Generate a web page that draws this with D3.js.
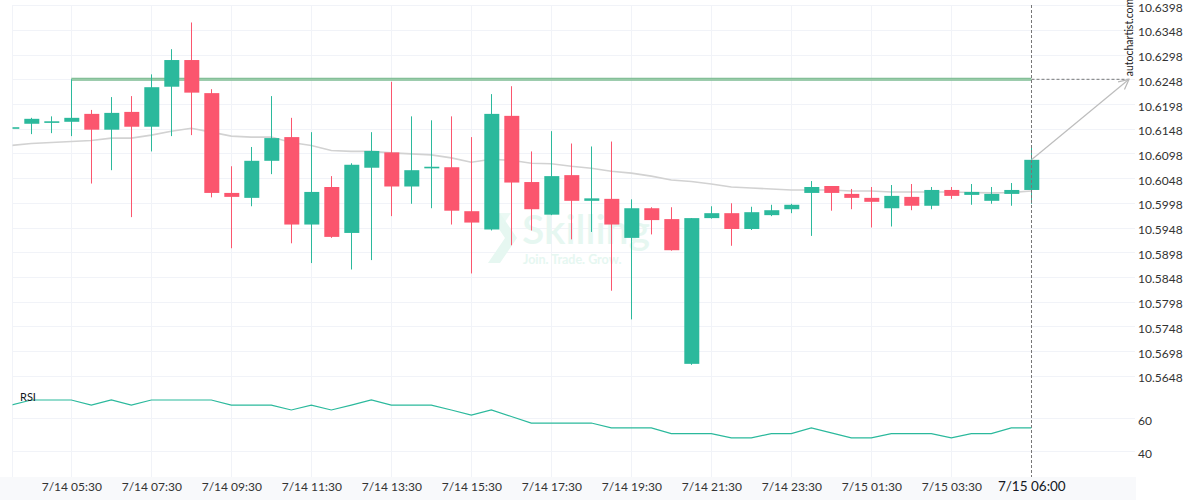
<!DOCTYPE html>
<html>
<head>
<meta charset="utf-8">
<script src="https://cdn.jsdelivr.net/npm/d3@7"></script>
<style>
html,body{margin:0;padding:0;background:#fff;}
svg{display:block;font-family:Lato, "Open Sans", sans-serif;}
</style>
</head>
<body>
<svg id="chart" width="1200" height="500"></svg>
<script>
// ---------- DATA ----------
const categories = [
  "7/14 04:00","7/14 04:30","7/14 05:00","7/14 05:30","7/14 06:00","7/14 06:30","7/14 07:00","7/14 07:30",
  "7/14 08:00","7/14 08:30","7/14 09:00","7/14 09:30","7/14 10:00","7/14 10:30","7/14 11:00","7/14 11:30",
  "7/14 12:00","7/14 12:30","7/14 13:00","7/14 13:30","7/14 14:00","7/14 14:30","7/14 15:00","7/14 15:30",
  "7/14 16:00","7/14 16:30","7/14 17:00","7/14 17:30","7/14 18:00","7/14 18:30","7/14 19:00","7/14 19:30",
  "7/14 20:00","7/14 20:30","7/14 21:00","7/14 21:30","7/14 22:00","7/14 22:30","7/14 23:00","7/14 23:30",
  "7/15 00:00","7/15 00:30","7/15 01:00","7/15 01:30","7/15 02:00","7/15 02:30","7/15 03:00","7/15 03:30",
  "7/15 04:00","7/15 04:30","7/15 05:00","7/15 06:00"
];
const openV  = [10.6148,10.6158,10.6162,10.6162,10.6178,10.6146,10.6182,10.6152,10.6233,10.6287,10.6220,10.6018,10.6008,10.6083,10.6131,10.5954,
                10.6030,10.5937,10.6069,10.6100,10.6031,10.6070,10.6070,10.5981,10.5944,10.6174,10.6040,10.5974,10.6054,10.6002,10.6006,10.5927,
                10.5987,10.5965,10.5672,10.5967,10.5977,10.5945,10.5973,10.5985,10.6018,10.6032,10.6016,10.6008,10.5987,10.6010,10.5992,10.6024,
                10.6014,10.6002,10.6016,10.6024];
const highV  = [10.6153,10.6170,10.6173,10.6248,10.6186,10.6212,10.6214,10.6258,10.6309,10.6363,10.6228,10.6072,10.6111,10.6214,10.6170,10.6141,
                10.6052,10.6078,10.6141,10.6243,10.6173,10.6165,10.6173,10.6131,10.6218,10.6234,10.6102,10.6143,10.6118,10.6112,10.6122,10.6005,
                10.5989,10.5989,10.5967,10.5991,10.5997,10.5990,10.5994,10.5996,10.6042,10.6032,10.6026,10.6030,10.6034,10.6036,10.6030,10.6030,
                10.6036,10.6030,10.6038,10.6115];
const lowV   = [10.6145,10.6137,10.6139,10.6133,10.6037,10.6064,10.5969,10.6102,10.6133,10.6135,10.6009,10.5906,10.5991,10.6056,10.5916,10.5876,
                10.5927,10.5863,10.5882,10.5971,10.5996,10.5987,10.5954,10.5855,10.5942,10.5912,10.5942,10.5973,10.5924,10.5939,10.5820,10.5762,
                10.5934,10.5901,10.5670,10.5966,10.5911,10.5943,10.5971,10.5977,10.5931,10.5982,10.5985,10.5948,10.5950,10.5983,10.5985,10.6006,
                10.5994,10.5996,10.5992,10.5996];
const closeV = [10.6151,10.6168,10.6163,10.6170,10.6146,10.6180,10.6152,10.6232,10.6287,10.6221,10.6018,10.6010,10.6083,10.6129,10.5954,10.6020,
                10.5929,10.6075,10.6103,10.6031,10.6064,10.6071,10.5982,10.5958,10.6178,10.6039,10.5985,10.6052,10.6002,10.6007,10.5954,10.5987,
                10.5963,10.5902,10.5967,10.5977,10.5945,10.5979,10.5983,10.5994,10.6030,10.6018,10.6008,10.6000,10.6012,10.5992,10.6024,10.6012,
                10.6020,10.6016,10.6024,10.6085];
const maV    = [10.6114,10.6118,10.6120,10.6122,10.6124,10.6129,10.6129,10.6135,10.6143,10.6149,10.6141,10.6133,10.6131,10.6131,10.6120,10.6114,
                10.6104,10.6102,10.6102,10.6099,10.6097,10.6095,10.6089,10.6080,10.6086,10.6084,10.6078,10.6077,10.6072,10.6068,10.6062,10.6058,
                10.6052,10.6044,10.6041,10.6036,10.6030,10.6028,10.6026,10.6024,10.6024,10.6024,10.6022,10.6022,10.6020,10.6020,10.6020,10.6020,
                10.6019,10.6018,10.6019,10.6022];
const rsiV   = [68.1,71.2,71.2,71.2,68.1,71.2,68.1,71.2,71.2,71.2,71.2,68.1,68.1,68.1,65.1,68.1,
                65.1,68.1,71.2,68.1,68.1,68.1,65.1,62.0,65.1,61.1,57.1,57.1,57.1,57.1,54.1,54.1,
                54.1,50.6,50.6,50.6,48.0,48.0,50.6,50.6,54.1,51.1,48.0,48.0,50.6,50.6,50.6,48.0,
                50.6,50.6,54.1,54.1];
const priceTicks = [10.6398,10.6348,10.6298,10.6248,10.6198,10.6148,10.6098,10.6048,10.5998,10.5948,10.5898,10.5848,10.5798,10.5748,10.5698,10.5648];
const rsiTicks = [60, 40];
const timeTicks = ["7/14 05:30","7/14 07:30","7/14 09:30","7/14 11:30","7/14 13:30","7/14 15:30","7/14 17:30",
                   "7/14 19:30","7/14 21:30","7/14 23:30","7/15 01:30","7/15 03:30","7/15 06:00"];
const resistanceLevel = 10.6248;
const resistanceStart = "7/14 05:30";
const rsiLabel = "RSI";
const sourceLabel = "autochartist.com";

// ---------- LAYOUT ----------
const W = 1200, H = 500;
const plotL = 12.5, plotR = 1135;
const priceTop = 5, priceBot = 385;
const rsiBot = 477;
const UP = "#2bb99c", DOWN = "#fb566e", GRID = "#f1f3f8";

const svg = d3.select("#chart");
const x = d3.scalePoint().domain(categories).range([11.3, 1031.3]);
const step = x.step();
const bodyW = step * 0.75;
const y = d3.scaleLinear().domain([10.5648, 10.6398]).range([375.7, 5.2]);
const yr = d3.scaleLinear().domain([40, 60]).range([451, 418.3]);

const defs = svg.append("defs");
defs.append("clipPath").attr("id","clipP").append("rect")
  .attr("x", plotL).attr("y", priceTop).attr("width", plotR - plotL).attr("height", priceBot - priceTop);
defs.append("clipPath").attr("id","clipR").append("rect")
  .attr("x", plotL).attr("y", priceBot).attr("width", plotR - plotL).attr("height", rsiBot - priceBot);
const mk = defs.append("marker").attr("id","arrow").attr("viewBox","0 0 12 12")
  .attr("refX", 11).attr("refY", 6).attr("markerWidth", 12).attr("markerHeight", 12)
  .attr("markerUnits","userSpaceOnUse").attr("orient","auto");
mk.append("path").attr("d","M1,1 L11,6 L1,11").attr("fill","none").attr("stroke","#b8b8b8").attr("stroke-width",1.2);

// axis strip background
svg.append("rect").attr("x",0).attr("y",rsiBot).attr("width",plotR+1).attr("height",H-rsiBot).attr("fill","#f8f9fb");

// grid
const grid = svg.append("g");
grid.selectAll("line.h").data(priceTicks).join("line")
  .attr("x1", plotL).attr("x2", plotR).attr("y1", d => Math.round(y(d))+0.5).attr("y2", d => Math.round(y(d))+0.5)
  .attr("stroke", GRID);
grid.selectAll("line.r").data(rsiTicks).join("line")
  .attr("x1", plotL).attr("x2", plotR).attr("y1", d => Math.round(yr(d))+0.5).attr("y2", d => Math.round(yr(d))+0.5)
  .attr("stroke", GRID);
grid.selectAll("line.v").data(timeTicks.slice(0,-1)).join("line")
  .attr("x1", d => Math.round(x(d))+0.5).attr("x2", d => Math.round(x(d))+0.5)
  .attr("y1", priceTop).attr("y2", rsiBot).attr("stroke", GRID);
grid.append("line").attr("x1", plotL).attr("x2", plotL).attr("y1", priceTop).attr("y2", rsiBot).attr("stroke", GRID);

// watermark
const wm = svg.append("g").attr("fill", "#e6f7f1");
wm.append("path").attr("d", "M488,213 L500,213 L517,238 L500,263 L488,263 L505,238 Z");
wm.append("path").attr("d", "M499,213 L511,213 L503,225 Z").attr("opacity",0.8);
wm.append("text").attr("x", 522).attr("y", 244).attr("font-size", 41).attr("font-weight", 600).text("Skilling");
wm.append("text").attr("x", 523).attr("y", 264).attr("font-size", 12.5).attr("font-weight", 700).text("Join. Trade. Grow.");

// price panel
const pp = svg.append("g").attr("clip-path","url(#clipP)");

// moving average
pp.append("path").datum(maV)
  .attr("d", d3.line().x((d,i) => x(categories[i])).y(d => y(d)))
  .attr("fill","none").attr("stroke","#d2d2d2").attr("stroke-width",1.6);

// resistance line
pp.append("line")
  .attr("x1", x(resistanceStart)).attr("x2", x(categories[categories.length-1]))
  .attr("y1", y(resistanceLevel)).attr("y2", y(resistanceLevel))
  .attr("stroke","#7dbb93").attr("stroke-width",3);
pp.append("line")
  .attr("x1", x(resistanceStart)).attr("x2", x(categories[categories.length-1]))
  .attr("y1", y(resistanceLevel)).attr("y2", y(resistanceLevel))
  .attr("stroke","#9fd0ae").attr("stroke-width",1);

// candles
const candles = pp.selectAll("g.c").data(categories).join("g");
candles.append("line")
  .attr("x1", d => Math.round(x(d))+0.5).attr("x2", d => Math.round(x(d))+0.5)
  .attr("y1", (d,i) => y(highV[i])).attr("y2", (d,i) => y(lowV[i]))
  .attr("stroke", (d,i) => closeV[i] >= openV[i] ? UP : DOWN).attr("stroke-width", 1);
candles.append("rect")
  .attr("x", d => x(d) - bodyW/2 + 0.5).attr("width", bodyW)
  .attr("y", (d,i) => y(Math.max(openV[i], closeV[i])))
  .attr("height", (d,i) => Math.max(1.6, Math.abs(y(openV[i]) - y(closeV[i]))))
  .attr("fill", (d,i) => closeV[i] >= openV[i] ? UP : DOWN);

// last-bar vertical dashed line
const lastX = Math.round(x(categories[categories.length-1])) + 0.5;
svg.append("line").attr("x1", lastX).attr("x2", lastX).attr("y1", priceTop).attr("y2", rsiBot)
  .attr("stroke","#777").attr("stroke-width",1).attr("stroke-dasharray","3,2");

// dashed projection + arrow
const arrowEndX = 1129;
svg.append("line").attr("x1", lastX).attr("x2", arrowEndX)
  .attr("y1", y(resistanceLevel)).attr("y2", y(resistanceLevel))
  .attr("stroke","#777").attr("stroke-width",1).attr("stroke-dasharray","3,2");
svg.append("line").attr("x1", lastX).attr("y1", y(closeV[closeV.length-1]))
  .attr("x2", arrowEndX).attr("y2", y(resistanceLevel))
  .attr("stroke","#bdbdbd").attr("stroke-width",1.2).attr("marker-end","url(#arrow)");

// source text
svg.append("text").attr("transform", `translate(1133,${y(resistanceLevel)-3}) rotate(-90)`)
  .attr("font-size", 10.5).attr("fill", "#222").text(sourceLabel);

// RSI panel
const rp = svg.append("g").attr("clip-path","url(#clipR)");
rp.append("path").datum(rsiV)
  .attr("d", d3.line().x((d,i) => x(categories[i])).y(d => yr(d)))
  .attr("fill","none").attr("stroke","#2bb99c").attr("stroke-width",1.2);
svg.append("text").attr("x", 20).attr("y", 401).attr("font-size", 11).attr("fill","#131722").text(rsiLabel);

// price axis
const ay = svg.append("g").attr("transform", `translate(${plotR},0)`)
  .call(d3.axisRight(y).tickValues(priceTicks).tickSize(0).tickPadding(3).tickFormat(d3.format(".4f")));
ay.select(".domain").remove();
ay.selectAll("text").attr("font-family","Lato, sans-serif").attr("font-size",12).attr("fill","#333").attr("dy","0.5em");

// RSI axis
const ayr = svg.append("g").attr("transform", `translate(${plotR},0)`)
  .call(d3.axisRight(yr).tickValues(rsiTicks).tickSize(0).tickPadding(3));
ayr.select(".domain").remove();
ayr.selectAll("text").attr("font-family","Lato, sans-serif").attr("font-size",12).attr("fill","#333").attr("dy","0.5em");

// time axis
const ax = svg.append("g").attr("transform", `translate(0,${rsiBot})`)
  .call(d3.axisBottom(x).tickValues(timeTicks).tickSize(0).tickPadding(5));
ax.select(".domain").remove();
ax.selectAll("text").attr("font-family","Lato, sans-serif").attr("font-size",12).attr("fill","#333");
ax.selectAll(".tick").filter(d => d === timeTicks[timeTicks.length-1]).select("text")
  .attr("font-size",13.5).attr("fill","#131722").attr("dy","0.68em");
</script>
</body>
</html>
